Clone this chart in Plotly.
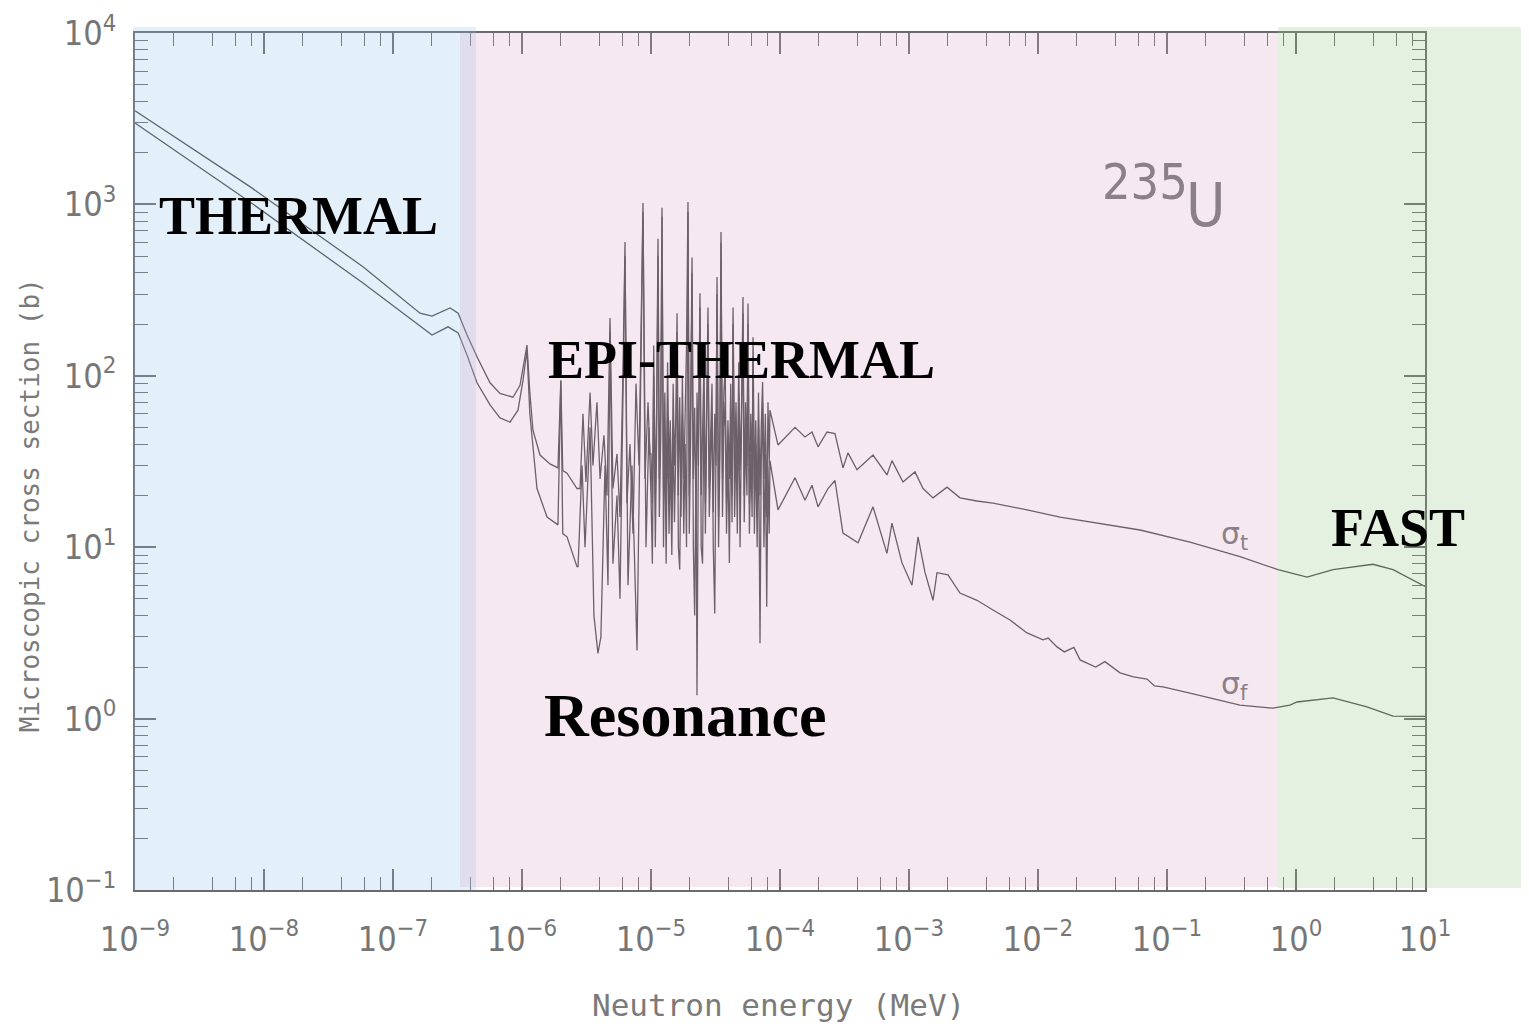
import plotly.graph_objects as go

# ---------------- data (energies in eV, cross sections in barns) ----------------
energy_total_eV = [
    0.001, 0.00778, 0.0585, 0.1132, 0.162, 0.2006, 0.277, 0.320, 0.375, 0.448,
    0.565, 0.675, 0.852, 0.965, 1.055, 1.093, 1.15, 1.217, 1.379, 1.648, 1.90,
    2.0, 2.07, 2.233, 2.668,
    2.82, 2.97, 3.13, 3.37, 3.55, 3.81, 4.03, 4.32, 4.56, 4.81, 5.07, 5.45, 5.75,
    6.07, 6.29, 6.51, 6.87, 7.25, 7.65, 8.07, 8.67, 8.98, 9.48, 9.82,
    10.0, 10.25, 10.5, 10.8, 11.05, 11.33, 11.6, 11.9, 12.17, 12.5, 12.8, 13.1,
    13.45, 13.8, 14.1, 14.5, 14.85, 15.2, 15.6, 15.92, 16.3, 16.7, 17.1, 17.5,
    17.95, 18.4, 18.85, 19.35, 19.8, 20.3, 20.8, 21.3, 21.8, 22.35, 22.73, 23.3,
    23.97, 24.5, 25.1, 25.76, 26.4, 27.0, 27.66, 28.3, 29.0, 29.7, 30.4, 31.2,
    31.9, 32.49, 33.4, 34.2, 34.89, 35.8, 36.7, 37.6, 38.5, 39.5, 40.5, 41.5,
    42.5, 43.25, 44.5, 45.6, 46.7, 47.9, 49.0, 50.3, 51.64, 52.8, 54.1, 55.4,
    56.49, 57.9, 59.4, 60.8, 61.8, 63.3, 64.9, 66.5, 68.1, 69.98, 71.5, 73.3,
    75.1, 77.0, 78.9, 80.72, 82.5, 83.56,
    96.5, 130.7, 156.2, 177.0, 197.2, 231.4, 266.8, 307.6, 336.5, 395.3, 526.0,
    674.5, 737.9, 898, 1113, 1285, 1535, 1972, 2484, 3365, 4477, 6067, 8222,
    14820, 25310, 61800, 150700, 368000, 725000, 1.217e6, 1.936e6, 3.95e6,
    5.65e6, 1.0e7,
]
sigma_total_b = [
    3520, 1270, 433, 289, 232, 223, 249, 232, 173, 129,
    91, 79, 75, 88, 132, 151, 80, 48, 34.5, 30.6, 29,
    94, 28, 27, 22,
    22, 60, 24, 80, 30, 70, 25, 45, 20, 217, 22, 35, 15,
    110, 603, 18, 40, 12, 90, 30, 1019, 25, 70, 35,
    35, 18, 150, 20, 60, 630, 25, 70, 955, 22, 80, 18,
    120, 25, 55, 16, 90, 30, 60, 232, 20, 75, 15, 100,
    25, 60, 150, 1033, 20, 70, 490, 25, 65, 14, 80, 30,
    303, 20, 55, 120, 18, 60, 250, 22, 45, 90, 16, 60,
    30, 377, 15, 50, 690, 25, 80, 110, 18, 55, 25, 90,
    20, 250, 30, 70, 22, 120, 28, 65, 288, 20, 70, 30,
    264, 18, 60, 25, 168, 22, 55, 15, 80, 20, 50, 92,
    25, 60, 15, 70, 30, 63,
    39.5, 50, 44, 47, 38.5, 47, 46, 29, 35.5, 28.3, 34.5,
    26.4, 32, 24, 27.5, 22, 19.4, 22.4, 19.4, 18.6, 18.1, 17.2, 16.5,
    15.0, 14.0, 12.6, 10.7, 8.8, 7.4, 6.7, 7.4, 7.95,
    7.4, 5.9,
]

energy_fission_eV = [
    0.001, 0.00778, 0.0585, 0.1132, 0.162, 0.2006, 0.267, 0.320, 0.375, 0.448,
    0.565, 0.675, 0.807, 0.931, 1.018, 1.093, 1.15, 1.307, 1.563, 1.90,
    2.0, 2.07, 2.233, 2.668,
    2.72, 2.92, 3.08, 3.37, 3.61, 3.88, 4.09, 4.40, 4.64, 4.81, 5.07, 5.45, 5.75,
    6.07, 6.29, 6.63, 7.12, 7.79, 8.22, 8.67, 9.15, 9.64,
    10.0, 10.25, 10.5, 10.8, 11.05, 11.33, 11.6, 11.9, 12.17, 12.5, 12.8, 13.1,
    13.45, 13.8, 14.1, 14.5, 14.85, 15.2, 15.6, 15.92, 16.3, 16.7, 17.1, 17.5,
    17.95, 18.4, 18.85, 19.35, 19.8, 20.3, 20.8, 21.3, 21.8, 22.35, 22.73, 23.3,
    23.97, 24.5, 25.1, 25.76, 26.4, 27.0, 27.66, 28.3, 29.0, 29.7, 30.4, 31.2,
    31.9, 32.49, 33.4, 34.2, 34.89, 35.8, 36.7, 37.6, 38.5, 39.5, 40.5, 41.5,
    42.5, 43.25, 44.5, 45.6, 46.7, 47.9, 49.0, 50.3, 51.64, 52.8, 54.1, 55.4,
    56.49, 57.9, 59.4, 60.8, 61.8, 63.3, 64.9, 66.5, 68.1, 69.98, 71.5, 73.3,
    75.1, 77.0, 78.9, 80.72, 82.5, 83.56,
    96.5, 130.7, 156.2, 177.0, 197.2, 235.6, 266.8, 307.6, 402.7, 526.0, 674.5,
    737.9, 882.7, 1054, 1175, 1332, 1535, 1648, 2006, 2484, 3365, 4477, 6067,
    8222, 10940, 12000, 14040, 16000, 19000, 21180, 24000, 28000, 33000, 43250,
    55000, 70000, 80000, 93110, 150700, 368000, 663600, 897000, 1.018e6,
    1.936e6, 3.55e6, 5.65e6, 1.0e7,
]
sigma_fission_b = [
    2985, 1033, 348, 239, 195, 173, 193, 178, 132, 91,
    67.6, 56.8, 53.7, 63, 94, 141, 60, 22, 15, 13.5,
    94, 12, 11.5, 7.7,
    7.7, 30, 10, 50, 4, 2.4, 3, 30, 6, 180, 8, 20, 5,
    80, 500, 6, 30, 2.5, 40, 900, 10, 50,
    20, 8, 100, 10, 40, 500, 15, 45, 850, 10, 50, 8,
    60, 12, 35, 9, 50, 14, 40, 180, 10, 7.4, 40, 60,
    12, 40, 10, 900, 12, 45, 400, 10, 4, 30, 1.37, 40,
    250, 10, 8, 80, 12, 40, 200, 15, 30, 60, 10, 4.1,
    40, 300, 10, 35, 600, 15, 50, 70, 12, 35, 8.1, 60,
    14, 200, 15, 45, 12, 80, 10, 40, 230, 14, 50, 20,
    200, 12, 35, 15, 130, 12, 40, 10, 50, 2.75, 30, 70,
    10, 35, 4.5, 30, 12, 32,
    16.5, 25.4, 18.8, 23, 17.2, 22, 24.5, 12.1, 10.6, 17.2, 9.2,
    13.8, 8.1, 6.0, 11.5, 7.1, 4.9, 7.1, 6.9, 5.4, 4.9, 4.3, 3.76,
    3.16, 2.88, 2.95, 2.62, 2.45, 2.6, 2.2, 2.1, 2.0, 2.15, 1.85,
    1.75, 1.7, 1.55, 1.53, 1.41, 1.2, 1.15, 1.2, 1.25,
    1.32, 1.17, 1.035, 1.03,
]

x_tick_values = [1e-9, 1e-8, 1e-7, 1e-6, 1e-5, 1e-4, 1e-3, 1e-2, 1e-1, 1e0, 1e1]
x_tick_labels = ["10<sup>−9</sup>", "10<sup>−8</sup>", "10<sup>−7</sup>", "10<sup>−6</sup>",
                 "10<sup>−5</sup>", "10<sup>−4</sup>", "10<sup>−3</sup>", "10<sup>−2</sup>",
                 "10<sup>−1</sup>", "10<sup>0</sup>", "10<sup>1</sup>"]
y_tick_values = [1e-1, 1e0, 1e1, 1e2, 1e3, 1e4]
y_tick_labels = ["10<sup>−1</sup>", "10<sup>0</sup>", "10<sup>1</sup>",
                 "10<sup>2</sup>", "10<sup>3</sup>", "10<sup>4</sup>"]

x_minor = [m * 10.0 ** k for k in range(-9, 1) for m in (2, 4, 6, 8)]
y_minor = [m * 10.0 ** k for k in range(-1, 4) for m in range(2, 10)]

to_mev = 1e-6
line_color = "#4a4a4a"

fig = go.Figure()
fig.add_trace(go.Scatter(
    x=[e * to_mev for e in energy_total_eV], y=sigma_total_b,
    mode="lines", line=dict(color=line_color, width=1.3), name="σt",
))
fig.add_trace(go.Scatter(
    x=[e * to_mev for e in energy_fission_eV], y=sigma_fission_b,
    mode="lines", line=dict(color=line_color, width=1.3), name="σf",
))

tick_font = dict(family="Liberation Sans Narrow, DejaVu Sans Condensed, Liberation Sans, sans-serif",
                 size=34, color="#767676")
axis_common = dict(
    type="log", showline=True, linecolor="#6a6a6a", linewidth=1.6, mirror="ticks",
    ticks="inside", ticklen=21, tickwidth=1.6, tickcolor="#6a6a6a", automargin=False,
    showgrid=False, zeroline=False, tickfont=tick_font,
)
fig.update_xaxes(range=[-9, 1], tickmode="array", tickvals=x_tick_values, ticktext=x_tick_labels,
                 ticklabelstandoff=18,
                 minor=dict(tickmode="array", tickvals=x_minor, ticks="inside", ticklen=13,
                            tickwidth=1.4, tickcolor="#6a6a6a", showgrid=False),
                 **axis_common)
fig.update_yaxes(range=[-1, 4], tickmode="array", tickvals=y_tick_values, ticktext=y_tick_labels,
                 ticklabelstandoff=10,
                 minor=dict(tickmode="array", tickvals=y_minor, ticks="inside", ticklen=13,
                            tickwidth=1.4, tickcolor="#6a6a6a", showgrid=False),
                 **axis_common)

# coloured energy-region panels (semi-transparent, over the plot like in the slide)
fig.add_shape(type="rect", xref="paper", yref="paper", x0=-0.0016, x1=0.2643, y0=0, y1=1.007,
              fillcolor="rgba(143,195,235,0.25)", line_width=0, layer="above")
fig.add_shape(type="rect", xref="paper", yref="paper", x0=0.252, x1=0.886, y0=0.0035, y1=1.0,
              fillcolor="rgba(215,163,195,0.25)", line_width=0, layer="above")
fig.add_shape(type="rect", xref="paper", yref="paper", x0=0.886, x1=1.0798, y0=0.0023, y1=1.007,
              fillcolor="rgba(151,199,131,0.25)", line_width=0, layer="above")

serif_bold = dict(family="Liberation Serif, Times New Roman, serif", color="black", weight="bold")
gray_sans = "Liberation Sans Narrow, DejaVu Sans Condensed, sans-serif"
anns = [
    dict(text="THERMAL", x=0.127, y=0.787, font=dict(size=54, **serif_bold)),
    dict(text="EPI-THERMAL", x=0.4698, y=0.618, font=dict(size=54, **serif_bold)),
    dict(text="Resonance", x=0.4264, y=0.204, font=dict(size=62, **serif_bold)),
    dict(text="FAST", x=0.979, y=0.422, font=dict(size=54, **serif_bold)),
    dict(text="235", x=0.783, y=0.826, font=dict(size=50, family=gray_sans, color="#8c8088")),
    dict(text="U", x=0.830, y=0.7993, font=dict(size=60, family=gray_sans, color="#8c8088")),
    dict(text="σ<sub>t</sub>", x=0.8527, y=0.414, font=dict(size=30, family="DejaVu Sans, sans-serif", color="#8c8088")),
    dict(text="σ<sub>f</sub>", x=0.8527, y=0.239, font=dict(size=30, family="DejaVu Sans, sans-serif", color="#8c8088")),
    dict(text="Neutron energy (MeV)", x=0.4985, y=-0.134,
         font=dict(size=31, family="DejaVu Sans Mono, monospace", color="#7a7a7a")),
    dict(text="Microscopic cross section (b)", x=-0.0814, y=0.449, textangle=-90,
         font=dict(size=26, family="DejaVu Sans Mono, monospace", color="#7a7a7a")),
]
for a in anns:
    fig.add_annotation(xref="paper", yref="paper", showarrow=False,
                       xanchor="center", yanchor="middle", **a)

# the page body adds an 8 px offset, so the figure is 8 px smaller than the window
fig.update_layout(
    width=1521, height=1019,
    margin=dict(l=127, r=104, t=25, b=137, autoexpand=False),
    paper_bgcolor="white", plot_bgcolor="white",
    showlegend=False,
)

fig.write_html("out.html")
